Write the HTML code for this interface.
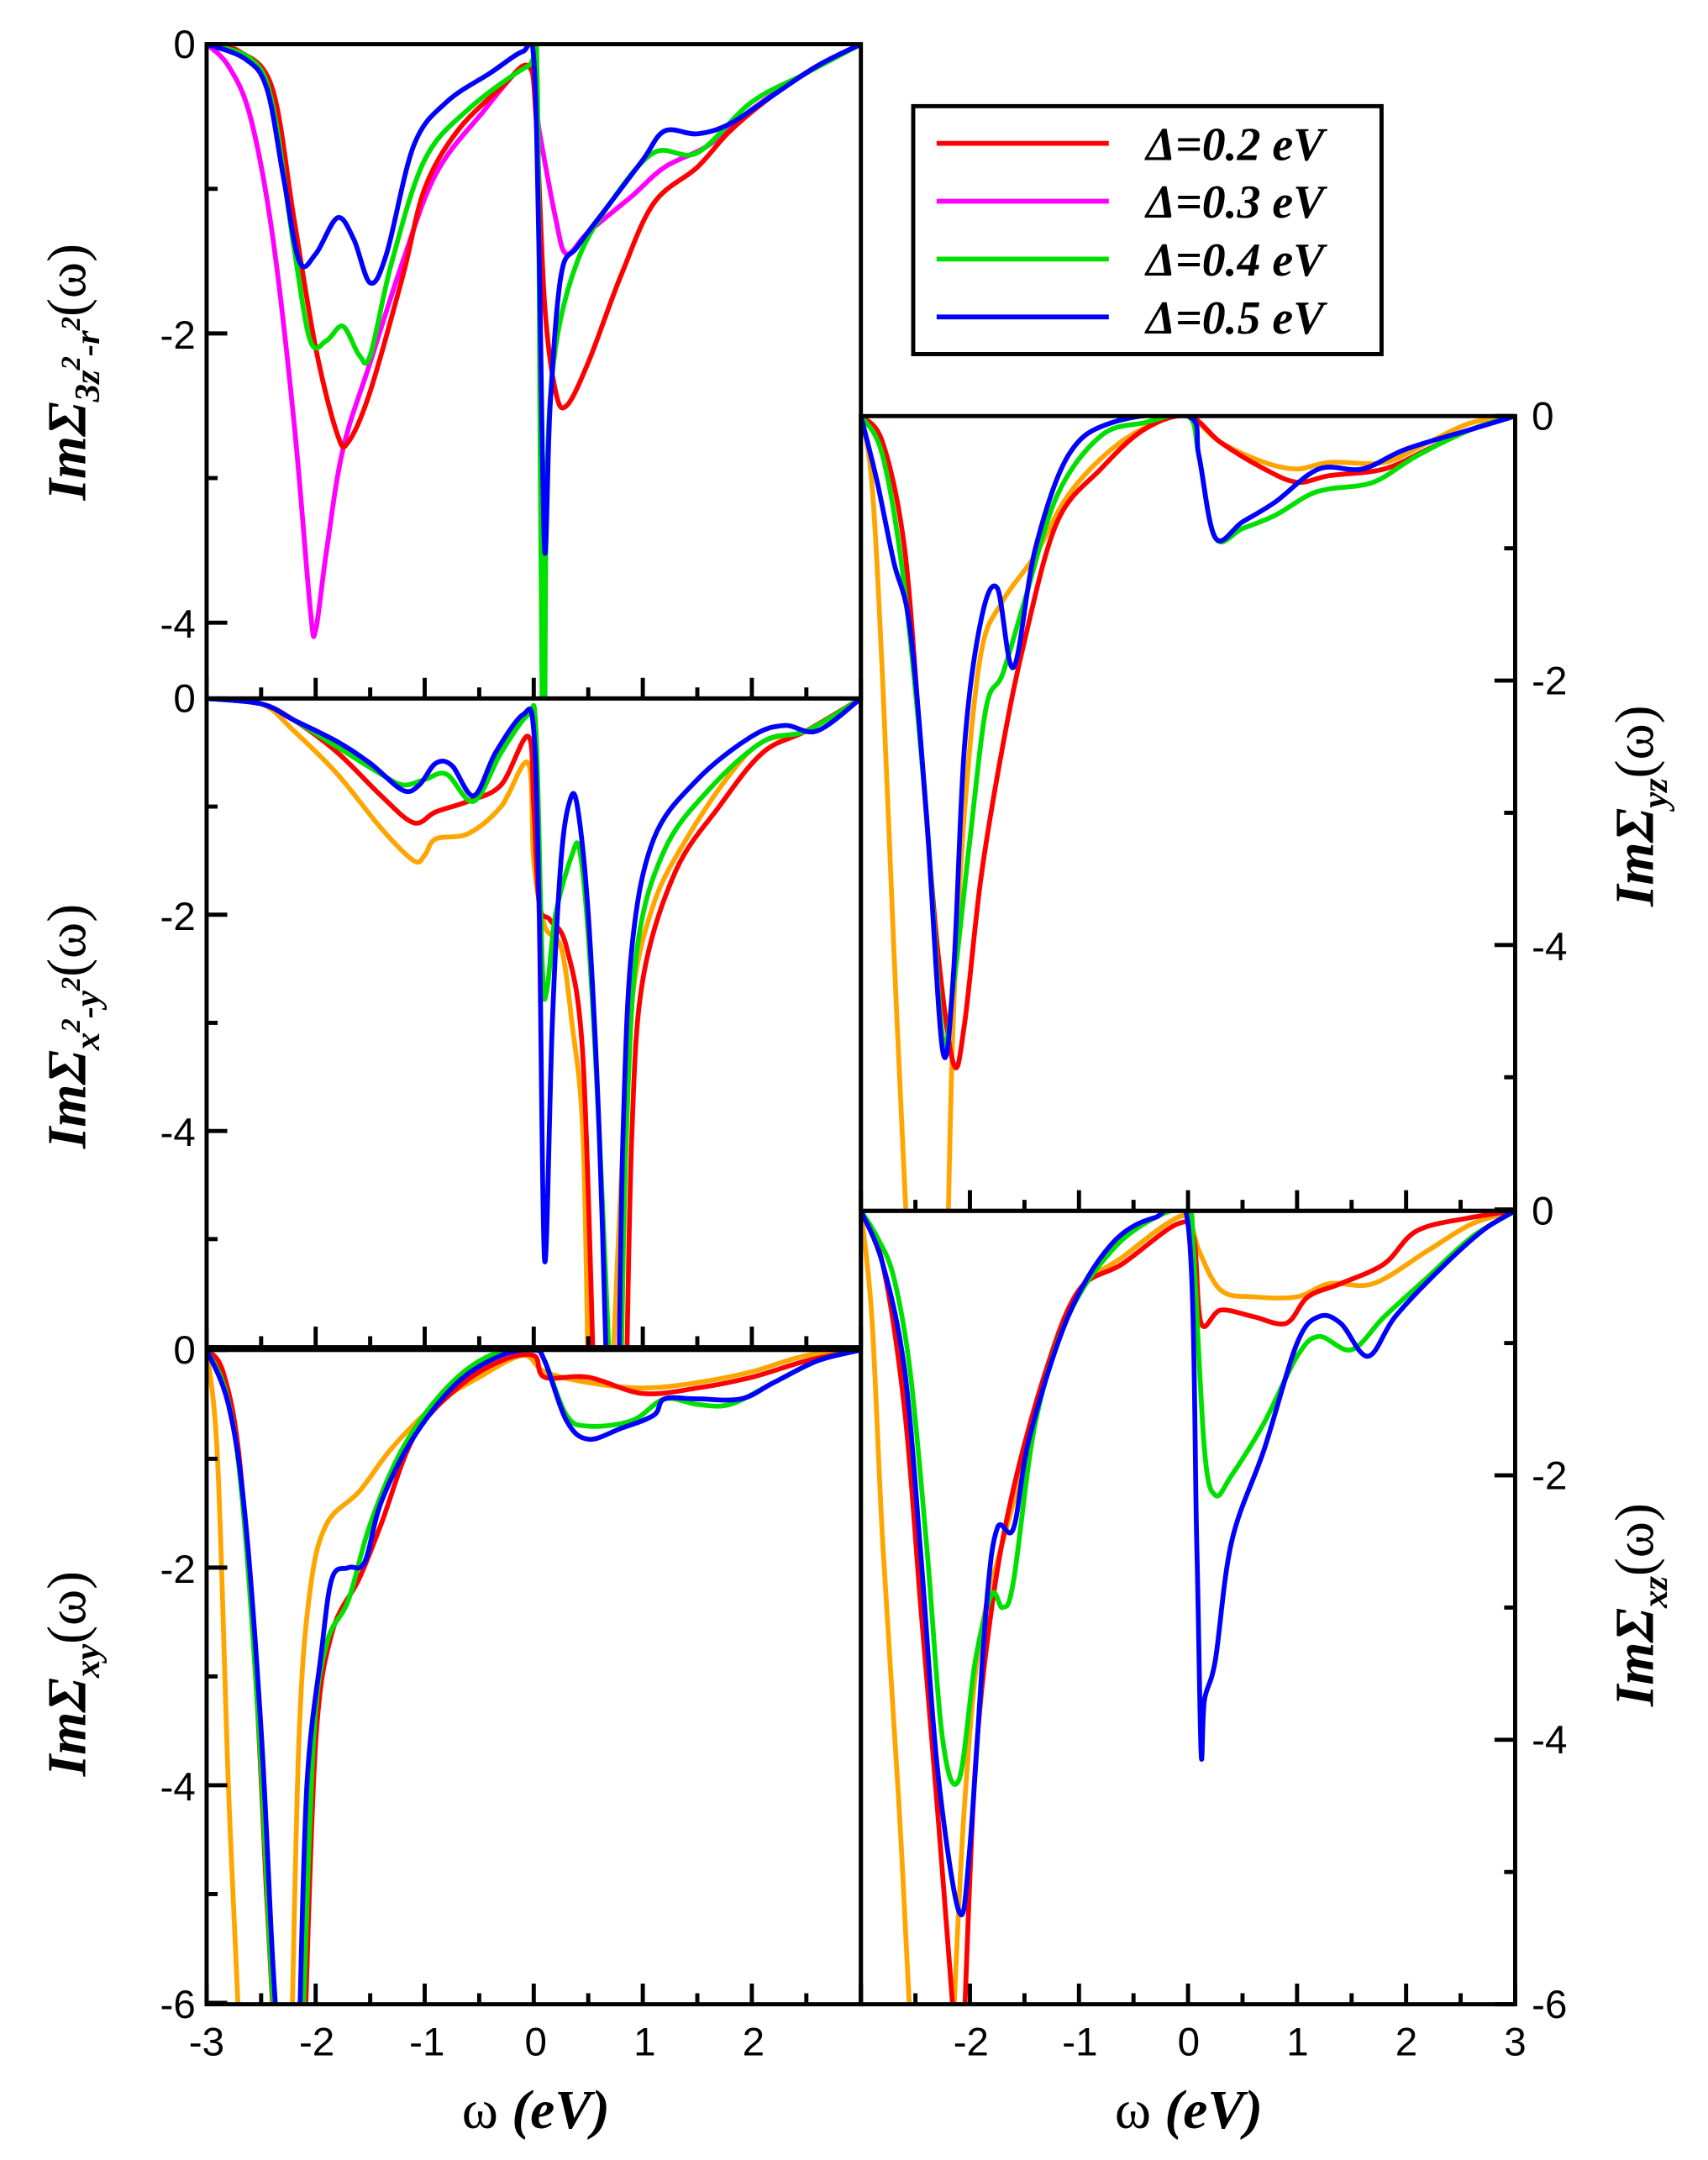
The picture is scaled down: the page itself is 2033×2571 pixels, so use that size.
<!DOCTYPE html>
<html><head><meta charset="utf-8"><style>
html,body{margin:0;padding:0;background:#fff}
svg{display:block}
</style></head><body>
<svg id="s" width="2033" height="2571" viewBox="0 0 1240 1568" xmlns="http://www.w3.org/2000/svg">
<defs>
<clipPath id="c0"><rect x="150" y="32" width="475" height="475"/></clipPath>
<clipPath id="c1"><rect x="150" y="507" width="475" height="471"/></clipPath>
<clipPath id="c2"><rect x="150" y="978" width="475" height="477"/></clipPath>
<clipPath id="c3"><rect x="625" y="302" width="475" height="577"/></clipPath>
<clipPath id="c4"><rect x="625" y="879" width="475" height="576"/></clipPath>
</defs>
<g id="curves"></g>
<g id="axes" fill="none" stroke="#000" stroke-width="3"></g>
<g font-size="29" text-anchor="end" font-family="Liberation Sans, sans-serif">
<text x="142" y="42">0</text><text x="142" y="253">-2</text><text x="142" y="463">-4</text>
<text x="142" y="517">0</text><text x="142" y="675">-2</text><text x="142" y="832">-4</text>
<text x="142" y="990">0</text><text x="142" y="1149">-2</text><text x="142" y="1307">-4</text><text x="142" y="1465">-6</text>
</g>
<g font-size="29" text-anchor="start" font-family="Liberation Sans, sans-serif">
<text x="1112" y="312">0</text><text x="1112" y="504">-2</text><text x="1112" y="697">-4</text>
<text x="1112" y="889">0</text><text x="1112" y="1081">-2</text><text x="1112" y="1273">-4</text><text x="1112" y="1465">-6</text>
</g>
<g font-size="29" text-anchor="middle" font-family="Liberation Sans, sans-serif">
<text x="150" y="1492">-3</text><text x="230" y="1492">-2</text><text x="310" y="1492">-1</text><text x="389" y="1492">0</text><text x="468" y="1492">1</text><text x="547" y="1492">2</text>
<text x="705" y="1492">-2</text><text x="784" y="1492">-1</text><text x="863" y="1492">0</text><text x="942" y="1492">1</text><text x="1021" y="1492">2</text><text x="1100" y="1492">3</text>
</g>
<g font-size="40" text-anchor="middle" font-family="Liberation Serif, serif">
<text x="389" y="1545">ω <tspan font-weight="bold" font-style="italic">(eV)</tspan></text>
<text x="863" y="1545">ω <tspan font-weight="bold" font-style="italic">(eV)</tspan></text>
</g>
<g font-size="40" font-weight="bold" font-style="italic" font-family="Liberation Serif, serif">
<text transform="translate(62,270) rotate(-90)" text-anchor="middle">ImΣ<tspan font-size="26" dy="10">3z</tspan><tspan font-size="20" dy="-14">2</tspan><tspan font-size="26" dy="14">-r</tspan><tspan font-size="20" dy="-14">2</tspan><tspan font-weight="normal" font-style="normal" dy="4">(ω)</tspan></text>
<text transform="translate(62,745) rotate(-90)" text-anchor="middle">ImΣ<tspan font-size="26" dy="10">x</tspan><tspan font-size="20" dy="-14">2</tspan><tspan font-size="26" dy="14">-y</tspan><tspan font-size="20" dy="-14">2</tspan><tspan font-weight="normal" font-style="normal" dy="4">(ω)</tspan></text>
<text transform="translate(62,1215) rotate(-90)" text-anchor="middle">ImΣ<tspan font-size="26" dy="10">xy</tspan><tspan font-weight="normal" font-style="normal" dy="-10">(ω)</tspan></text>
<text transform="translate(1200,585) rotate(-90)" text-anchor="middle">ImΣ<tspan font-size="26" dy="10">yz</tspan><tspan font-weight="normal" font-style="normal" dy="-10">(ω)</tspan></text>
<text transform="translate(1200,1165) rotate(-90)" text-anchor="middle">ImΣ<tspan font-size="26" dy="10">xz</tspan><tspan font-weight="normal" font-style="normal" dy="-10">(ω)</tspan></text>
</g>
<rect x="663" y="77" width="340" height="180" fill="#fff" stroke="#000" stroke-width="3"/>
<g stroke-width="3.5">
<line x1="680" y1="104" x2="805" y2="104" stroke="#ff0000"/>
<line x1="680" y1="146" x2="805" y2="146" stroke="#ff00ff"/>
<line x1="680" y1="188" x2="805" y2="188" stroke="#00e000"/>
<line x1="680" y1="230" x2="805" y2="230" stroke="#0000ff"/>
</g>
<g font-size="34" font-weight="bold" font-style="italic" font-family="Liberation Serif, serif">
<text x="832" y="116">Δ=0.2 eV</text><text x="832" y="158">Δ=0.3 eV</text><text x="832" y="200">Δ=0.4 eV</text><text x="832" y="242">Δ=0.5 eV</text>
</g>
</svg>
<script>
var NS="http://www.w3.org/2000/svg";
var C={r:"#ff0000",m:"#ff00ff",o:"#ffa500",g:"#00e000",b:"#0000ff"};
var P=[
{x0:150,y0:32,sy:105,clip:"c0",x1:625,y1:507},
{x0:150,y0:507,sy:78.5,clip:"c1",x1:625,y1:978},
{x0:150,y0:980,sy:79,clip:"c2",x1:625,y1:1455},
{x0:625,y0:302,sy:96,clip:"c3",x1:1100,y1:879},
{x0:625,y0:879,sy:96,clip:"c4",x1:1100,y1:1455}];
var D=[
{r:[[-3,0],[-2.7,-.05],[-2.4,-.3],[-2.2,-1.2],[-2,-2.1],[-1.8,-2.7],[-1.7,-2.75],[-1.5,-2.4],[-1.2,-1.6],[-1,-1],[-.7,-.6],[-.3,-.3],[-.05,-.15],[.02,-.5],[.1,-1.8],[.2,-2.4],[.3,-2.5],[.5,-2.2],[.8,-1.6],[1.1,-1.1],[1.5,-.85],[1.8,-.6],[2.2,-.35],[2.6,-.15],[3,0]],
 m:[[-3,0],[-2.8,-.15],[-2.6,-.5],[-2.4,-1.3],[-2.2,-2.6],[-2.05,-3.9],[-2,-4.05],[-1.9,-3.5],[-1.75,-2.8],[-1.5,-2.2],[-1.2,-1.5],[-.9,-.9],[-.5,-.5],[-.05,-.15],[.05,-.6],[.2,-1.2],[.3,-1.45],[.5,-1.3],[.9,-1.05],[1.2,-.85],[1.6,-.7],[2,-.45],[2.5,-.2],[3,0]],
 g:[[-3,0],[-2.6,-.1],[-2.4,-.4],[-2.2,-1.4],[-2.05,-2.05],[-1.9,-2.05],[-1.75,-1.95],[-1.6,-2.15],[-1.5,-2.15],[-1.3,-1.5],[-1,-.8],[-.6,-.45],[-.05,-.15],[.03,-.2],[.06,-3],[.08,-4.8],[.1,-4.8],[.12,-3],[.2,-2.1],[.4,-1.5],[.7,-1.1],[1.1,-.75],[1.5,-.75],[2,-.4],[2.5,-.2],[3,0]],
 b:[[-3,0],[-2.65,-.1],[-2.45,-.3],[-2.3,-.9],[-2.15,-1.5],[-2,-1.45],[-1.8,-1.2],[-1.65,-1.35],[-1.5,-1.65],[-1.35,-1.45],[-1.1,-.7],[-.8,-.4],[-.4,-.2],[-.1,-.05],[0,-.1],[.05,-1.5],[.1,-3.5],[.15,-2.5],[.25,-1.6],[.4,-1.4],[.7,-1.1],[1,-.8],[1.2,-.6],[1.5,-.62],[1.8,-.55],[2.2,-.35],[2.6,-.15],[3,0]]},
{o:[[[-3,0],[-2.5,-.05],[-2.2,-.3],[-1.8,-.7],[-1.4,-1.2],[-1.1,-1.5],[-1,-1.45],[-.9,-1.3],[-.6,-1.25],[-.3,-1],[-.05,-.6],[0,-1.5],[.1,-2.1],[.25,-2.3],[.35,-3],[.45,-4],[.5,-6.3]],[[.72,-6.3],[.8,-4.5],[.9,-2.8],[1.1,-1.9],[1.4,-1.3],[1.8,-.7],[2.1,-.4],[2.5,-.3],[3,0]]],
 r:[[[-3,0],[-2.5,-.05],[-2.2,-.2],[-1.8,-.5],[-1.4,-.9],[-1.1,-1.15],[-.9,-1.05],[-.6,-.95],[-.3,-.8],[-.05,-.35],[0,-1],[.05,-1.9],[.15,-2.05],[.3,-2.3],[.45,-3.3],[.55,-6.3]],[[.85,-6.3],[.9,-4],[1,-2.6],[1.3,-1.6],[1.7,-1],[2.1,-.5],[2.5,-.3],[3,0]]],
 g:[[[-3,0],[-2.5,-.05],[-2.2,-.2],[-1.8,-.45],[-1.4,-.7],[-1.2,-.8],[-1,-.75],[-.8,-.7],[-.55,-.95],[-.3,-.5],[-.05,-.15],[.02,-.3],[.08,-2.5],[.12,-2.7],[.2,-2],[.35,-1.45],[.42,-1.4],[.5,-2.2],[.6,-4],[.7,-6.3]],[[.8,-6.3],[.85,-4],[.95,-2.3],[1.2,-1.4],[1.6,-.85],[2.1,-.4],[2.5,-.3],[3,0]]],
 b:[[[-3,0],[-2.5,-.05],[-2.2,-.2],[-1.8,-.4],[-1.5,-.6],[-1.2,-.85],[-1.05,-.8],[-.9,-.6],[-.75,-.62],[-.55,-.9],[-.35,-.5],[-.1,-.15],[0,-.3],[.05,-2],[.1,-5.2],[.17,-3],[.25,-1.5],[.33,-.95],[.4,-1],[.5,-2],[.6,-4],[.67,-6.3]],[[.78,-6.3],[.82,-4],[.9,-2.3],[1.1,-1.3],[1.5,-.75],[2,-.35],[2.3,-.25],[2.6,-.3],[3,0]]]},
{o:[[[-3,0],[-2.9,-1],[-2.8,-4],[-2.7,-6.3]],[[-2.22,-6.3],[-2.15,-3.5],[-2.05,-2.2],[-1.9,-1.6],[-1.6,-1.3],[-1.3,-.9],[-.9,-.5],[-.5,-.25],[-.1,-.05],[.1,-.2],[.5,-.3],[1,-.35],[1.5,-.3],[2,-.2],[2.5,-.05],[3,0]]],
 r:[[[-3,0],[-2.85,-.2],[-2.7,-1],[-2.55,-3],[-2.45,-5],[-2.38,-6.3]],[[-2.1,-6.3],[-2,-3.6],[-1.85,-2.6],[-1.6,-2.1],[-1.4,-1.6],[-1.1,-.8],[-.7,-.35],[-.3,-.1],[0,-.05],[.1,-.25],[.5,-.25],[1,-.4],[1.5,-.35],[2,-.25],[2.5,-.1],[3,0]]],
 g:[[[-3,0],[-2.82,-.4],[-2.68,-1.3],[-2.52,-3.5],[-2.42,-5.5],[-2.37,-6.3]],[[-2.12,-6.3],[-2.02,-3.6],[-1.9,-2.7],[-1.7,-2.3],[-1.5,-1.6],[-1.2,-.9],[-.8,-.35],[-.4,-.05],[0,0],[.1,-.1],[.3,-.6],[.5,-.7],[.9,-.65],[1.2,-.45],[1.5,-.5],[1.8,-.5],[2.2,-.3],[2.6,-.1],[3,0]]],
 b:[[[-3,0],[-2.8,-.5],[-2.65,-1.5],[-2.5,-3.5],[-2.4,-5.5],[-2.35,-6.3]],[[-2.15,-6.3],[-2.08,-4],[-1.95,-2.8],[-1.85,-2.1],[-1.7,-2],[-1.55,-1.95],[-1.4,-1.4],[-1.1,-.8],[-.7,-.3],[-.3,-.05],[0,0],[.1,-.1],[.3,-.65],[.5,-.82],[.8,-.72],[1.1,-.6],[1.2,-.45],[1.5,-.45],[1.9,-.45],[2.2,-.3],[2.6,-.1],[3,0]]]},
{o:[[[-3,0],[-2.9,-.5],[-2.8,-2],[-2.7,-4],[-2.6,-5.8],[-2.58,-6.1]],[[-2.2,-6.1],[-2.15,-4.5],[-2.05,-3],[-1.9,-1.8],[-1.7,-1.4],[-1.4,-1.05],[-1.1,-.6],[-.7,-.25],[-.3,-.05],[0,0],[.3,-.2],[.7,-.35],[1,-.4],[1.3,-.35],[1.8,-.35],[2.2,-.2],[2.6,-.05],[3,0]]],
 r:[[-3,0],[-2.8,-.2],[-2.6,-1],[-2.45,-2.5],[-2.3,-4],[-2.15,-4.9],[-2.05,-4.6],[-1.9,-3.5],[-1.7,-2.5],[-1.5,-1.7],[-1.2,-.8],[-.8,-.4],[-.4,-.1],[0,0],[.3,-.2],[.7,-.4],[1,-.5],[1.3,-.45],[1.8,-.4],[2.2,-.25],[2.6,-.1],[3,0]],
 g:[[-3,0],[-2.8,-.3],[-2.6,-1.3],[-2.4,-3],[-2.25,-4.7],[-2.15,-4.3],[-2,-3.2],[-1.85,-2.2],[-1.7,-1.95],[-1.5,-1.4],[-1.2,-.6],[-.8,-.15],[-.4,-.05],[0,0],[.1,-.3],[.25,-.92],[.5,-.85],[.8,-.75],[1.1,-.6],[1.3,-.55],[1.7,-.5],[2.1,-.3],[2.6,-.1],[3,0]],
 b:[[-3,0],[-2.85,-.5],[-2.7,-1.1],[-2.55,-1.6],[-2.4,-3],[-2.25,-4.8],[-2.15,-4.2],[-2.05,-2.5],[-1.9,-1.55],[-1.75,-1.3],[-1.6,-1.9],[-1.4,-1],[-1.1,-.3],[-.7,-.05],[0,0],[.1,-.3],[.25,-.92],[.5,-.8],[.8,-.65],[1.2,-.4],[1.6,-.4],[2,-.25],[2.6,-.1],[3,0]]},
{o:[[[-3,0],[-2.9,-.8],[-2.8,-2.5],[-2.65,-4.5],[-2.55,-6.1]],[[-2.15,-6.1],[-2.05,-4.5],[-1.9,-3.2],[-1.6,-2.2],[-1.3,-1.2],[-1,-.6],[-.6,-.35],[-.2,-.1],[0,-.05],[.1,-.3],[.3,-.6],[.6,-.65],[1,-.65],[1.3,-.55],[1.7,-.55],[2.2,-.3],[2.6,-.1],[3,0]]],
 r:[[[-3,0],[-2.8,-.4],[-2.6,-1.5],[-2.45,-3],[-2.3,-4.5],[-2.15,-6.1]],[[-2.05,-6.1],[-1.95,-4.2],[-1.8,-3],[-1.6,-2.1],[-1.3,-1.2],[-1,-.6],[-.6,-.4],[-.1,-.1],[.05,-.2],[.12,-.85],[.3,-.75],[.6,-.8],[.9,-.85],[1.1,-.65],[1.4,-.55],[1.8,-.4],[2.1,-.15],[2.6,-.05],[3,0]]],
 g:[[-3,0],[-2.85,-.2],[-2.7,-.5],[-2.55,-1.2],[-2.4,-2.5],[-2.25,-4],[-2.1,-4.3],[-1.95,-3.4],[-1.8,-2.9],[-1.7,-3],[-1.6,-2.8],[-1.4,-1.6],[-1.1,-.8],[-.7,-.3],[-.3,-.05],[0,0],[.05,-.3],[.15,-1.8],[.25,-2.15],[.4,-2],[.7,-1.6],[1,-1.1],[1.2,-.95],[1.5,-1.05],[1.8,-.8],[2.2,-.5],[2.6,-.2],[3,0]],
 b:[[-3,0],[-2.8,-.4],[-2.6,-1.2],[-2.45,-2.6],[-2.3,-4.2],[-2.1,-5.3],[-2,-4.8],[-1.85,-3],[-1.75,-2.4],[-1.6,-2.4],[-1.45,-1.7],[-1.1,-.8],[-.7,-.25],[-.3,-.05],[0,-.1],[.08,-2.5],[.12,-4.1],[.15,-3.7],[.25,-3.4],[.4,-2.5],[.7,-1.8],[1,-1],[1.2,-.8],[1.4,-.85],[1.65,-1.1],[1.9,-.8],[2.3,-.45],[2.7,-.15],[3,0]]}];
function path(pts){
 var d="M"+pts[0][0].toFixed(1)+","+pts[0][1].toFixed(1);
 for(var i=0;i<pts.length-1;i++){
  var p0=pts[i-1]||pts[i],p1=pts[i],p2=pts[i+1],p3=pts[i+2]||p2;
  var c1x=p1[0]+(p2[0]-p0[0])/6,c1y=p1[1]+(p2[1]-p0[1])/6,c2x=p2[0]-(p3[0]-p1[0])/6,c2y=p2[1]-(p3[1]-p1[1])/6;
  d+="C"+c1x.toFixed(1)+","+c1y.toFixed(1)+" "+c2x.toFixed(1)+","+c2y.toFixed(1)+" "+p2[0].toFixed(1)+","+p2[1].toFixed(1);
 }return d;}
var G=document.getElementById("curves");
var order=["o","m","r","g","b"];
D.forEach(function(dd,k){
 var p=P[k];var sx=(p.x1-p.x0)/6;
 var g=document.createElementNS(NS,"g");g.setAttribute("clip-path","url(#"+p.clip+")");G.appendChild(g);
 order.forEach(function(c){
  if(!dd[c])return;var segs=dd[c];if(typeof segs[0][0]=="number")segs=[segs];
  segs.forEach(function(s){
   var pts=s.map(function(q){return[p.x0+(q[0]+3)*sx,p.y0-q[1]*p.sy];});
   var e=document.createElementNS(NS,"path");e.setAttribute("d",path(pts));
   e.setAttribute("fill","none");e.setAttribute("stroke",C[c]);e.setAttribute("stroke-width","3.5");
   g.appendChild(e);});});
});
var A=document.getElementById("axes");var h="";
P.forEach(function(p,k){
 h+='<rect x="'+p.x0+'" y="'+p.y0+'" width="'+(p.x1-p.x0)+'" height="'+(p.y1-p.y0)+'"/>';
 var sx=(p.x1-p.x0)/6;var right=k>=3;
 for(var i=-3;i<=3;i++){var x=p.x0+(i+3)*sx;h+='<line x1="'+x+'" y1="'+p.y1+'" x2="'+x+'" y2="'+(p.y1-15)+'"/>';
  if(i<3){var xm=x+sx/2;h+='<line x1="'+xm+'" y1="'+p.y1+'" x2="'+xm+'" y2="'+(p.y1-8)+'"/>';}}
 for(var v=0;v>=-6;v--){var y=p.y0-v*p.sy;if(y>p.y1+1)break;var L=(v%2==0)?15:8;
  if(right)h+='<line x1="'+p.x1+'" y1="'+y+'" x2="'+(p.x1-L)+'" y2="'+y+'"/>';
  else h+='<line x1="'+p.x0+'" y1="'+y+'" x2="'+(p.x0+L)+'" y2="'+y+'"/>';}
});
A.innerHTML=h;
</script>
</body></html>
